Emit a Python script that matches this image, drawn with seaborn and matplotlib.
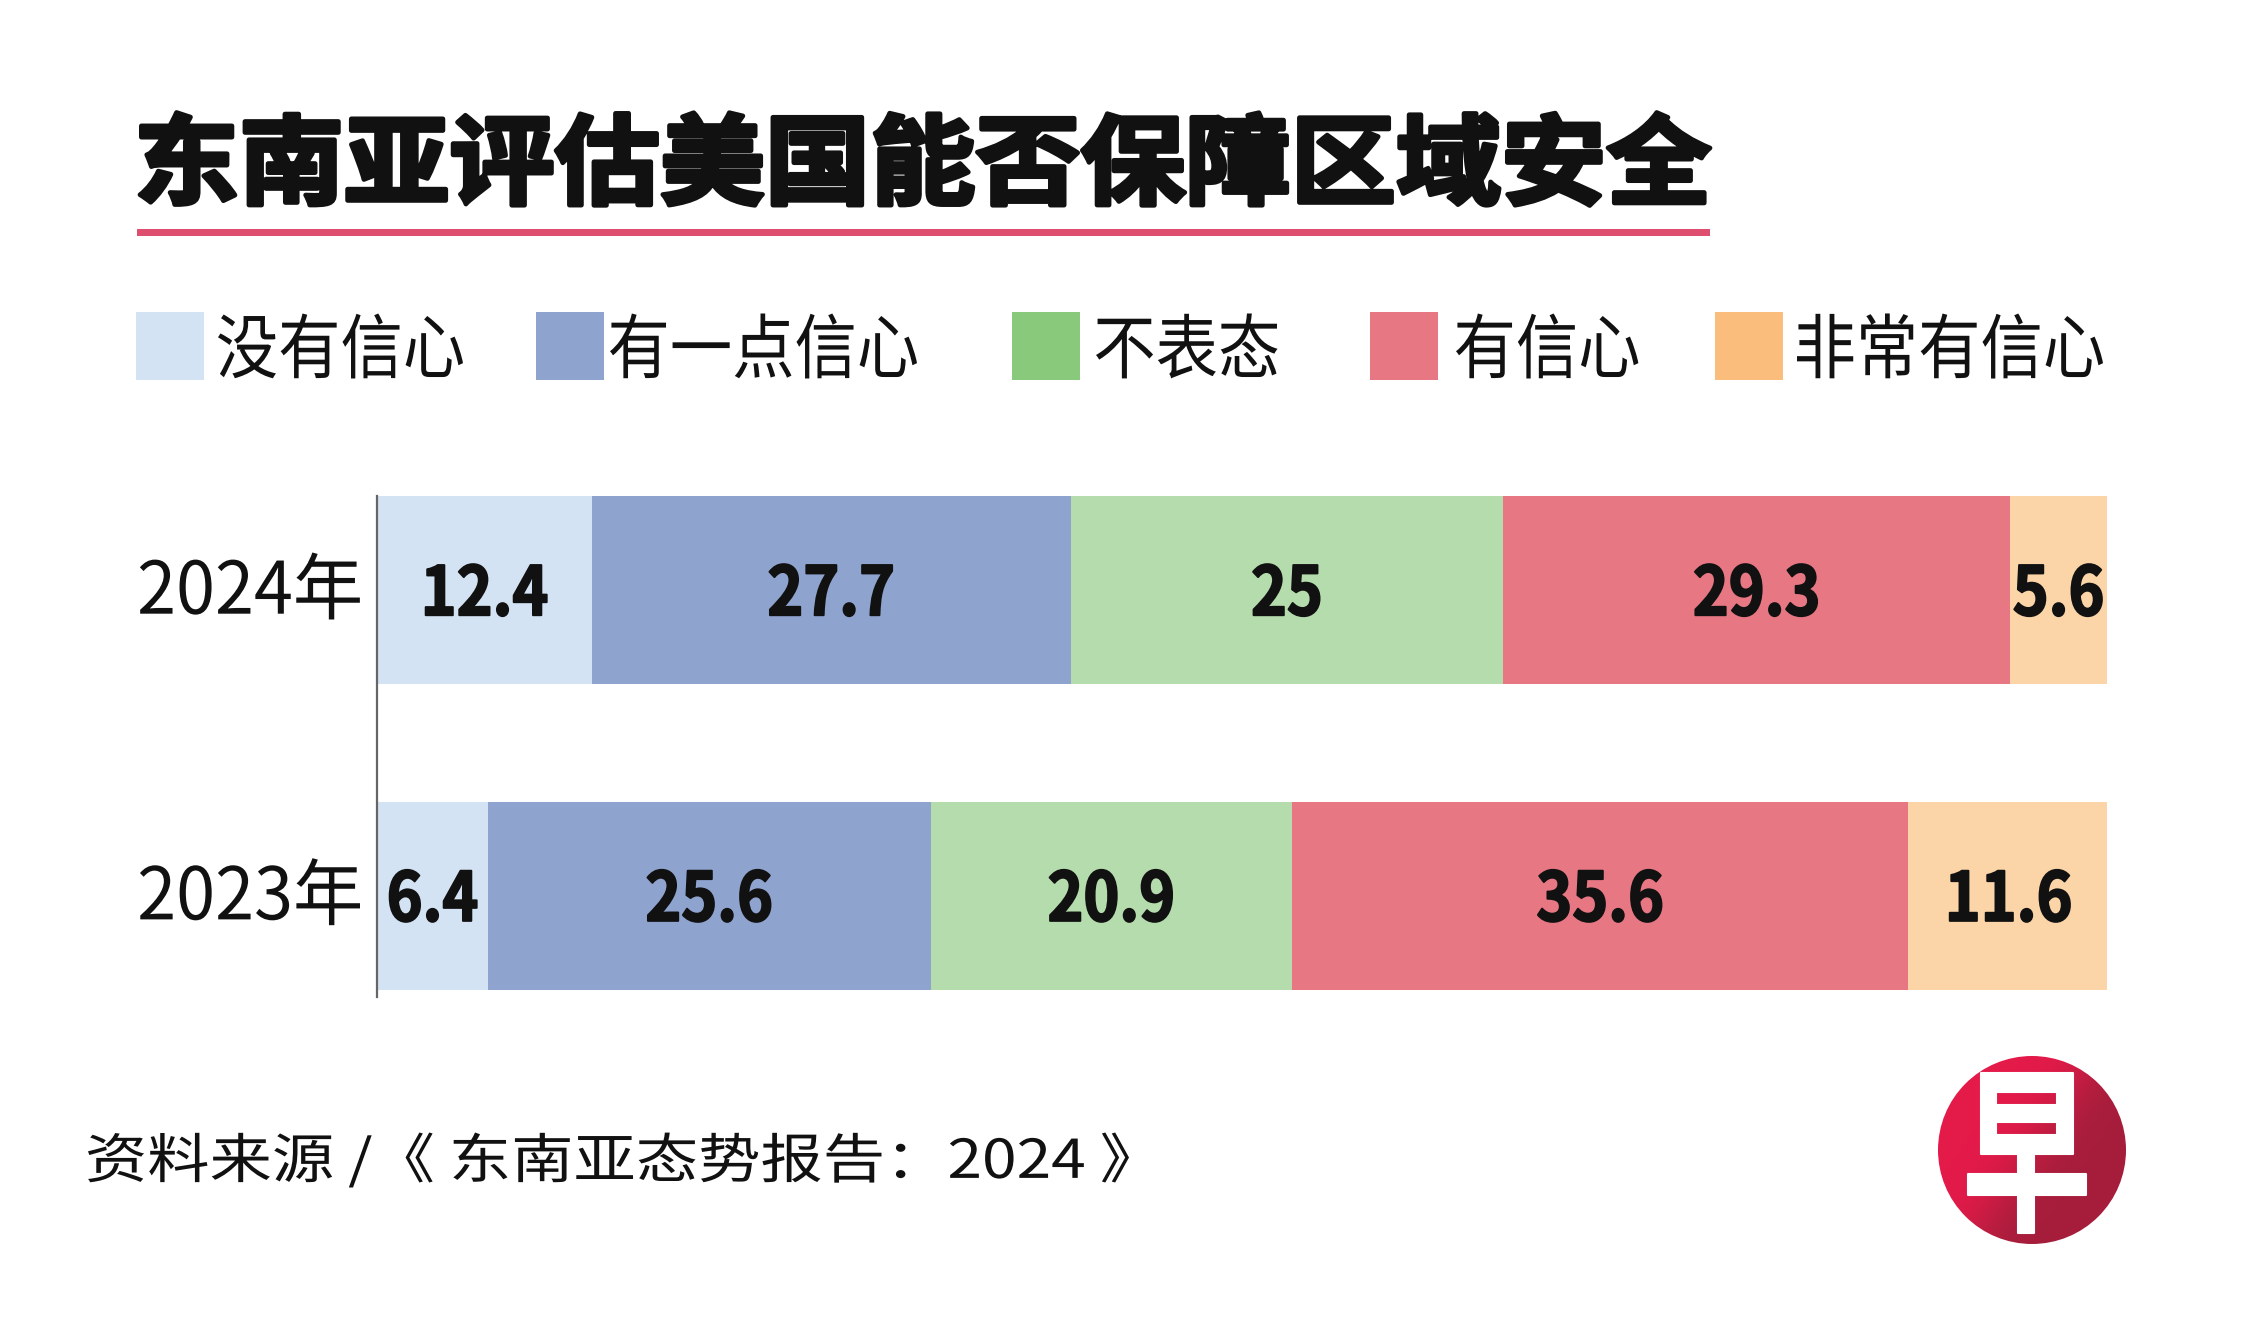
import numpy as np
import pandas as pd
import matplotlib
matplotlib.use("Agg")
import matplotlib.pyplot as plt
from matplotlib.font_manager import FontProperties
from matplotlib.textpath import TextPath
from matplotlib.transforms import Affine2D
from matplotlib.patheffects import AbstractPathEffect
from matplotlib.patches import Rectangle, Circle
import seaborn as sns

# data
years = ["2024年", "2023年"]
categories = ["没有信心", "有一点信心", "不表态", "有信心", "非常有信心"]
values_2024 = [12.4, 27.7, 25, 29.3, 5.6]
values_2023 = [6.4, 25.6, 20.9, 35.6, 11.6]
bar_colors = ["#d4e3f4", "#8fa3cf", "#b5dcad", "#e67783", "#fbd5a8"]
legend_colors = ["#d4e3f4", "#8fa3cf", "#88c97c", "#e67783", "#fbbd7b"]

title = "东南亚评估美国能否保障区域安全"
source = "资料来源 /《 东南亚态势报告：2024 》"

sns.set_theme(style="white")
plt.rcParams["font.family"] = ["Noto Sans CJK SC", "DejaVu Sans"]

W, H = 2251, 1337
PX = 100 / 72  # px per point at dpi 100


def fx(px):
    return px / W


def fy(py):
    return (H - py) / H


class Condense(AbstractPathEffect):
    """squeeze text horizontally (the graphic uses condensed type), optional stroke"""

    def __init__(self, sx, anchor="x0", stroke=0.0):
        super().__init__()
        self.sx = sx
        self.anchor = anchor
        self.stroke = stroke

    def draw_path(self, renderer, gc, tpath, affine, rgbFace=None):
        e = tpath.get_extents()
        cx = {"x0": e.x0, "x1": e.x1, "center": (e.x0 + e.x1) / 2}[self.anchor]
        aff = Affine2D().translate(-cx, 0).scale(self.sx, 1).translate(cx, 0) + affine
        gc0 = renderer.new_gc()
        gc0.copy_properties(gc)
        if self.stroke > 0 and rgbFace is not None:
            gc0.set_linewidth(self.stroke)
            gc0.set_foreground(rgbFace)
            gc0.set_joinstyle("round")
        renderer.draw_path(gc0, tpath, aff, rgbFace)
        gc0.restore()


def ink(s, fp, size):
    return TextPath((0, 0), s, size=size, prop=fp).get_extents()


def fit(s, fp, w_px, h_px):
    e = ink(s, fp, 100)
    fs = 100 * (h_px / PX) / e.height
    sx = (w_px / PX) / (e.width * fs / 100)
    return fs, sx


def place(s, fp, fs, sx, left_px, cy_px, stroke=0.0, color="#111111"):
    e = ink(s, fp, fs)
    x = left_px - e.x0 * PX
    base = cy_px + (e.y0 + e.y1) / 2 * PX
    fig.text(fx(x), fy(base), s, fontproperties=fp, fontsize=fs, color=color,
             ha="left", va="baseline", path_effects=[Condense(sx, "x0", stroke)])


fp_reg = FontProperties(family="Noto Sans CJK SC", weight="normal")
fp_bold = FontProperties(family="Noto Sans CJK SC", weight="bold")

fig = plt.figure(figsize=(W / 100, H / 100), dpi=100)
fig.patch.set_facecolor("white")

# title and underline
t_fs, t_sx = fit(title, fp_bold, 1575 - 5, 98 - 5)
place(title, fp_bold, t_fs, t_sx, 140, 159, stroke=3.4)
fig.patches.append(Rectangle((fx(137), fy(236)), fx(1710) - fx(137), 7 / H,
                             transform=fig.transFigure, color="#de4f6f", lw=0))

# legend built by hand to match the spacing
sq_x = [136, 536, 1012, 1370, 1715]
txt_x = [218, 610, 1096, 1456, 1797]
l_fs, l_sx = fit(categories[0], fp_reg, 245, 65)
for c, sx_, tx, lab in zip(legend_colors, sq_x, txt_x, categories):
    fig.patches.append(Rectangle((fx(sx_), fy(380)), 68 / W, 68 / H,
                                 transform=fig.transFigure, color=c, lw=0))
    place(lab, fp_reg, l_fs, l_sx, tx, 346)

# stacked bars
ax = fig.add_axes([fx(377), fy(990), fx(2107) - fx(377), (990 - 496) / H])
data = pd.DataFrame({"2024年": values_2024, "2023年": values_2023}, index=categories)
cum = data.cumsum()
start = cum - data

for i in reversed(range(len(categories))):
    sns.barplot(x=cum.iloc[i].values, y=years, order=years, orient="h",
                color=bar_colors[i], saturation=1, width=0.616,
                linewidth=0, ax=ax)

v_fs, v_sx = fit("12.4", fp_bold, 123 - 2, 54 - 2)
for j, yr in enumerate(years):
    for i, cat in enumerate(categories):
        v = data.loc[cat, yr]
        s = f"{v:g}"
        e = ink(s, fp_bold, v_fs)
        ax.annotate(s, xy=(start.loc[cat, yr] + v / 2, j), xytext=(0, -(e.y0 + e.y1) / 2),
                    textcoords="offset points", ha="center", va="baseline",
                    fontproperties=fp_bold, fontsize=v_fs, color="#111111",
                    path_effects=[Condense(v_sx, "center", 1.4)])

y_fs, y_sx = fit(years[0], fp_reg, 220, 67)
for j, yr in enumerate(years):
    e = ink(yr, fp_reg, y_fs)
    ax.annotate(yr, xy=(0, j), xycoords=ax.get_yaxis_transform(),
                xytext=(-10, -(e.y0 + e.y1) / 2 + 3), textcoords="offset points",
                ha="right", va="baseline", fontproperties=fp_reg, fontsize=y_fs,
                color="#111111", path_effects=[Condense(y_sx, "x1")])

ax.set_xlim(0, 100)
ax.set_ylim(1.308, -0.308)
ax.set_xlabel("")
ax.set_ylabel("")
ax.set_xticks([])
ax.set_yticks([])
for s in ["top", "right", "bottom"]:
    ax.spines[s].set_visible(False)
ax.spines["left"].set_color("#666666")
ax.spines["left"].set_linewidth(1.6)
ax.spines["left"].set_bounds(1.33, -0.308)
ax.patch.set_alpha(0)

# source line
s_fs, s_sx = fit(source, fp_reg, 1041, 55)
place(source, fp_reg, s_fs, s_sx, 88, 1160)

# round red logo with 早
lax = fig.add_axes([fx(2032 - 94), fy(1150 + 94), 188 / W, 188 / H])
xs = np.linspace(-1, 1, 300)
X, Y = np.meshgrid(xs, xs)
t = 1 / (1 + np.exp(-(X * 0.9 + Y * 0.6) * 6))
c1 = np.array([0xe5, 0x1a, 0x4a]) / 255
c2 = np.array([0xa5, 0x1e, 0x3b]) / 255
img = c1[None, None, :] * (1 - t[..., None]) + c2[None, None, :] * t[..., None]
im = lax.imshow(img, extent=[-1, 1, -1, 1], origin="upper")
im.set_clip_path(Circle((0, 0), 1, transform=lax.transData))
lax.set_xlim(-1, 1)
lax.set_ylim(-1, 1)
lax.axis("off")
g_fs, g_sx = fit("早", fp_bold, 118, 160)
place("早", fp_bold, g_fs, g_sx, 2027 - 59, 1153, stroke=1.5, color="white")

fig.savefig("out.png", dpi=100, facecolor="white")
